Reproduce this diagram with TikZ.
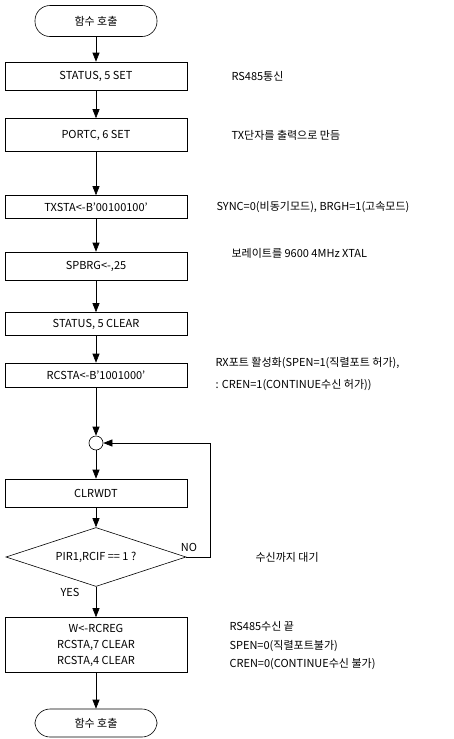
\documentclass[tikz,border=0pt]{standalone}
\usepackage{fontspec}
\setmainfont{Noto Sans CJK KR}
\usetikzlibrary{arrows.meta,shapes.geometric}
\tikzset{
  every node/.style={font=\fontsize{11pt}{13pt}\selectfont},
  procbox/.style={draw, line width=0.6pt, rectangle, minimum width=182pt, inner sep=0pt, align=center},
  term/.style={draw, line width=0.6pt, rectangle, rounded corners=15pt, minimum width=122pt, minimum height=31pt, inner sep=0pt},
  deci/.style={draw, line width=0.6pt, diamond, aspect=3.05, minimum width=180pt, minimum height=59pt, inner sep=0pt},
  joint/.style={draw, line width=0.6pt, circle, minimum size=14pt, inner sep=0pt},
  flow/.style={draw, line width=0.6pt, -{Triangle[length=9pt,width=7pt]}},
  note/.style={anchor=west, align=left},
}
\begin{document}
\begin{tikzpicture}[x=1pt,y=-1pt]
\useasboundingbox (0,0) rectangle (453,739);
\node[term] (start) at (96,21) {함수 호출};
\node[procbox, minimum height=28pt] (b1) at (96,76) {STATUS, 5 SET};
\node[procbox, minimum height=33pt] (b2) at (96,135) {PORTC, 6 SET};
\node[procbox, minimum height=23pt] (b3) at (96,207) {TXSTA<-B'00100100'};
\node[procbox, minimum height=28pt] (b4) at (96,266) {SPBRG<-,25};
\node[procbox, minimum height=23pt] (b5) at (96,324) {STATUS, 5 CLEAR};
\node[procbox, minimum height=24pt] (b6) at (96,375) {RCSTA<-B'1001000'};
\node[joint] (c) at (96,443) {};
\node[procbox, minimum height=28pt] (clr) at (96,493) {CLRWDT};
\node[deci] (d) at (96,557) {PIR1,RCIF == 1 ?};
\node[procbox, minimum height=55pt, font=\fontsize{11pt}{16pt}\selectfont] (b7) at (96,645) {W<-RCREG\\RCSTA,7 CLEAR\\RCSTA,4 CLEAR};
\node[term, minimum height=28pt] (end) at (96,723) {함수 호출};
\coordinate (r1) at (210,557);
\coordinate (r2) at (210,443);

\draw[flow] (start) -- (b1);
\draw[flow] (b1) -- (b2);
\draw[flow] (b2) -- (b3);
\draw[flow] (b3) -- (b4);
\draw[flow] (b4) -- (b5);
\draw[flow] (b5) -- (b6);
\draw[flow] (b6) -- (c);
\draw[flow] (c) -- (clr);
\draw[flow] (clr) -- (d);
\draw[flow] (d) -- (b7);
\draw[flow] (b7) -- (end);
\draw[flow] (d.east) -- (r1) -- (r2) -- (c.east);

\node (no) at (189,547) {NO};
\node (yes) at (70,592) {YES};

\node[note] (n1) at (228,76) {RS485통신};
\node[note] (n2) at (228,135) {TX단자를 출력으로 만듬};
\node[note] (n3) at (213,207) {SYNC=0(비동기모드), BRGH=1(고속모드)};
\node[note] (n4) at (228,253) {보레이트를 9600 4MHz XTAL};
\node[note] (n5) at (212,363) {RX포트 활성화(SPEN=1(직렬포트 허가),};
\node[note] (n6) at (212,385) {: CREN=1(CONTINUE수신 허가))};
\node[note] (n7) at (252,557) {수신까지 대기};
\node[note, align=left, font=\fontsize{11pt}{18.5pt}\selectfont] (n8) at (226,646) {RS485수신 끝\\SPEN=0(직렬포트불가)\\CREN=0(CONTINUE수신 불가)};
\end{tikzpicture}
\end{document}
